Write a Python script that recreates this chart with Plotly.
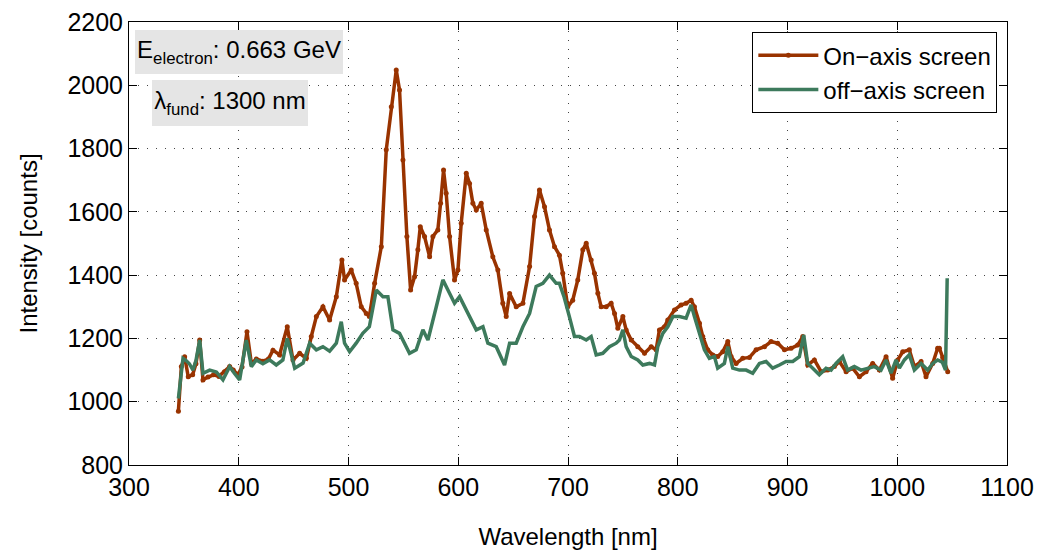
import plotly.graph_objects as go

# On-axis screen (wavelength nm, intensity counts)
on_wl = [345, 347.7, 350.7, 354, 358, 361, 364.4, 367.4, 372, 377, 382, 387, 391.7, 395, 399.3,
         403, 407.5, 411.5, 416, 422, 427, 431.2, 437.2, 444.2, 449.4, 455.5, 461.6, 466.1, 470.7,
         476.7, 482.8, 488.9, 494, 496.4, 502.5, 507, 511.6, 516.2, 519, 523.8, 529.9, 534.4, 539,
         543.5, 546.5, 549.6, 553.2, 556.6, 560.2, 563.2, 565.4, 569.3, 573.9, 576.9, 581.4, 583.9,
         586.6, 589, 592.1, 596.6, 599.7, 602.7, 607.3, 610.3, 613.3, 616.4, 620.9, 625.5, 631.5,
         636.1, 640.6, 643.7, 646.8, 652.8, 658.9, 665, 669.5, 674, 678.6, 683.1, 687.7, 692.2,
         695.2, 699.8, 704.3, 708.9, 713.5, 716.6, 721.1, 724.1, 727.2, 730.2, 734.8, 739.3, 742.4,
         745.4, 750, 753, 757.6, 763.6, 769.7, 775.8, 780.3, 783.3, 787.9, 790.9, 797, 803, 807.6,
         812.2, 815.2, 819.8, 822.8, 827.3, 831.9, 836.4, 841, 845.6, 848.6, 853.2, 859.2, 865.3,
         871.4, 879, 885, 891.1, 897.2, 903.3, 909.3, 913.9, 918.4, 924.5, 930.6, 936.7, 942.7,
         947.3, 953.4, 959.4, 965.5, 971.6, 977.6, 983.7, 989.8, 995.8, 1000.4, 1005, 1011, 1015.6,
         1021.7, 1026.2, 1032.3, 1036.8, 1038.4, 1041.4, 1046]
on_val = [970, 1111, 1142, 1079, 1085, 1120, 1195, 1069, 1078, 1085, 1080, 1095, 1111, 1100, 1085,
          1110, 1221, 1121, 1135, 1128, 1135, 1163, 1148, 1237, 1132, 1153, 1137, 1206, 1269,
          1300, 1258, 1332, 1448, 1385, 1416, 1374, 1300, 1279, 1269, 1374, 1490, 1796, 1932,
          2048, 1985, 1764, 1522, 1353, 1395, 1480, 1553, 1522, 1458, 1522, 1543, 1627,
          1732, 1659, 1522, 1385, 1416, 1564, 1722, 1690, 1627, 1606, 1627, 1543, 1458,
          1416, 1311, 1269, 1342, 1300, 1311, 1427, 1585, 1669, 1616, 1543, 1490, 1463,
          1406, 1300, 1321, 1385, 1480, 1501, 1448, 1406, 1343, 1300, 1300, 1311, 1279,
          1232, 1269, 1227, 1195, 1174, 1153, 1174, 1164, 1227, 1237, 1258, 1290, 1306, 1311,
          1321, 1300, 1248, 1206, 1164, 1148, 1143, 1158, 1190, 1143, 1121, 1137, 1140,
          1164, 1174, 1190, 1185, 1164, 1169, 1179, 1206, 1116, 1132, 1095, 1100, 1111,
          1127, 1095, 1106, 1079, 1095, 1121, 1100, 1142, 1074, 1132, 1158, 1164, 1111,
          1127, 1079, 1121, 1169, 1169, 1140, 1095]

# Off-axis screen
off_wl = [345, 349.2, 352, 355, 358.3, 361, 364.4, 367.4, 373.5, 379.6, 385.6, 391.7, 396, 400.8,
          406.9, 411.5, 416, 422, 428, 434.2, 440.2, 444.2, 451, 458.6, 464.6, 470.7, 476.7, 482.8,
          488.9, 493.4, 496.4, 501, 507, 513, 519, 525.3, 531.4, 535.9, 540.5, 546.5, 555.6, 561.7,
          567.8, 572.4, 580, 586, 590.6, 596.6, 601.2, 605.8, 610.3, 616.4, 622.5, 627, 634.6, 642.2,
          646.8, 652.8, 658.9, 665, 671, 677.1, 683.1, 689.2, 692.2, 696.5, 701.3, 705.9, 710.5,
          716.6, 721.1, 725.7, 731.7, 737.8, 743.9, 746.9, 750, 753, 757.6, 763.6, 768.2, 774.3,
          778.8, 781.8, 786.4, 790.9, 795.5, 801.6, 807.6, 812.2, 815.2, 819.8, 824.3, 828.8, 833.4,
          836.4, 842.5, 845.6, 850.1, 856.2, 862.3, 868.3, 874.4, 880.5, 886.5, 892.6, 898.7, 904.8,
          910.8, 914.8, 918.4, 923, 929, 935.1, 939.7, 944.2, 950.3, 954.8, 960.9, 967, 973, 979.1,
          985.2, 989.8, 994.3, 998.9, 1001.9, 1006.5, 1011, 1015.6, 1021.7, 1027.7, 1032.3, 1036.8,
          1041, 1044, 1045.5]
off_val = [1010, 1137, 1130, 1120, 1100, 1130, 1195, 1090, 1100, 1094, 1069, 1111, 1090, 1069,
           1195, 1111, 1132, 1120, 1132, 1116, 1132, 1200, 1106, 1122, 1185, 1164, 1174, 1160,
           1185, 1253, 1185, 1158, 1185, 1216, 1237, 1353, 1332, 1332, 1227, 1216, 1153, 1164,
           1227, 1195, 1300, 1385, 1353, 1311, 1332, 1300, 1269, 1227, 1237, 1185, 1174, 1116,
           1185, 1185, 1237, 1279, 1364, 1374, 1400, 1374, 1374, 1330, 1268, 1206, 1206,
           1195, 1206, 1148, 1153, 1174, 1185, 1195, 1227, 1174, 1143, 1132, 1116, 1121,
           1116, 1174, 1216, 1237, 1269, 1269, 1264, 1306, 1269, 1216, 1164, 1137, 1143,
           1106, 1121, 1174, 1106, 1100, 1100, 1090, 1121, 1127, 1106, 1116, 1127, 1127,
           1142, 1211, 1121, 1106, 1085, 1106, 1100, 1121, 1142, 1100, 1111, 1100, 1106, 1111,
           1100, 1132, 1090, 1132, 1106, 1132, 1148, 1100, 1121, 1100, 1121, 1132,
           1125, 1100, 1390]

x_ticks = [300, 400, 500, 600, 700, 800, 900, 1000, 1100]
y_ticks = [800, 1000, 1200, 1400, 1600, 1800, 2000, 2200]

FONT = "Liberation Sans, Arial, sans-serif"
RED = "#993300"
GREEN = "#3d7a5c"

fig = go.Figure()
fig.add_trace(go.Scatter(x=on_wl, y=on_val, name="On\u2212axis screen", mode="lines+markers",
                         line=dict(color=RED, width=3.5), marker=dict(color=RED, size=5)))
fig.add_trace(go.Scatter(x=off_wl, y=off_val, name="off\u2212axis screen", mode="lines",
                         line=dict(color=GREEN, width=3.5)))

axis_common = dict(showline=True, linecolor="black", linewidth=1, mirror="ticks",
                   ticks="inside", ticklen=8, tickcolor="black", tickwidth=1,
                   showgrid=True, gridcolor="#444444", gridwidth=1, griddash="1px,8px",
                   zeroline=False, automargin=False, ticklabeloverflow="allow",
                   tickfont=dict(family=FONT, size=25, color="black"))

fig.update_xaxes(range=[300, 1100], tickvals=x_ticks,
                 title=dict(text="Wavelength [nm]", font=dict(family=FONT, size=24, color="black"), standoff=28),
                 **axis_common)
fig.update_yaxes(range=[800, 2200], tickvals=y_ticks,
                 title=dict(text="Intensity [counts]", font=dict(family=FONT, size=24, color="black"), standoff=22),
                 **axis_common)

fig.add_annotation(xref="paper", yref="paper", x=0.0068, y=0.982, xanchor="left", yanchor="top",
                   text="E<sub>electron</sub>: 0.663 GeV", showarrow=False, bgcolor="#e5e5e5",
                   width=208, height=44, borderpad=0, borderwidth=0, align="center",
                   font=dict(family=FONT, size=24, color="black"))
fig.add_annotation(xref="paper", yref="paper", x=0.026, y=0.869, xanchor="left", yanchor="top",
                   text="\u03bb<sub>fund</sub>: 1300 nm", showarrow=False, bgcolor="#e5e5e5",
                   width=156, height=46, borderpad=0, borderwidth=0, align="center",
                   font=dict(family=FONT, size=24, color="black"))

fig.update_layout(
    width=1042, height=553,
    margin=dict(l=121, r=43, t=14, b=96, autoexpand=False),
    paper_bgcolor="white", plot_bgcolor="white",
    showlegend=True,
    legend=dict(x=0.989, y=0.977, xanchor="right", yanchor="top", bgcolor="white",
                bordercolor="black", borderwidth=1, font=dict(family=FONT, size=24, color="black"),
                itemwidth=60, tracegroupgap=0),
)

fig.write_html("out.html")
